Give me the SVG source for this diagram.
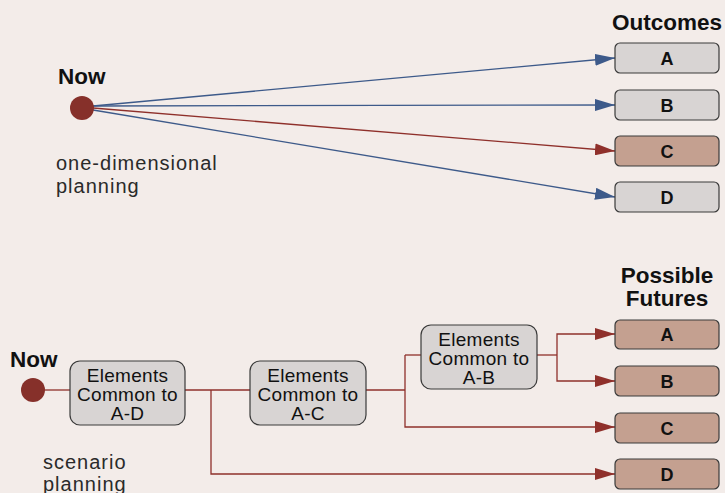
<svg xmlns="http://www.w3.org/2000/svg" width="725" height="493" viewBox="0 0 725 493">
<style>
.bg{fill:#f3ece9}
.box{stroke:#3a3a3a;stroke-width:1.2}
.grey{fill:#d8d4d3}
.brown{fill:#c4a090}
.ttl{font-family:"Liberation Sans",Arial,sans-serif;font-weight:bold;font-size:22.5px;fill:#111}
.lbl{font-family:"Liberation Sans",Arial,sans-serif;font-weight:bold;font-size:18px;fill:#111;text-anchor:middle}
.btxt{font-family:"Liberation Sans",Arial,sans-serif;font-size:19px;letter-spacing:0.3px;fill:#111;text-anchor:middle}
.note{font-family:"Liberation Sans",Arial,sans-serif;font-size:20px;letter-spacing:1px;fill:#2a2a2a}
.blue{stroke:#3d5a8a;stroke-width:1.3;fill:none}
.red{stroke:#8f302b;stroke-width:1.3;fill:none}
.dot{fill:#86302a}
</style>
<defs>
<marker id="ab" markerUnits="userSpaceOnUse" markerWidth="20" markerHeight="12" refX="20" refY="6" orient="auto"><path d="M0,0 L20,6 L0,12 Z" fill="#3d5a8a"/></marker>
<marker id="ar" markerUnits="userSpaceOnUse" markerWidth="20" markerHeight="12" refX="20" refY="6" orient="auto"><path d="M0,0 L20,6 L0,12 Z" fill="#8f302b"/></marker>
</defs>
<rect class="bg" x="0" y="0" width="725" height="493"/>

<g id="connectors">
<line class="blue" x1="93" y1="106" x2="615" y2="58" marker-end="url(#ab)"/>
<line class="blue" x1="93" y1="106" x2="615" y2="105" marker-end="url(#ab)"/>
<line class="red" x1="93" y1="108" x2="615" y2="151" marker-end="url(#ar)"/>
<line class="blue" x1="93" y1="110" x2="615" y2="197" marker-end="url(#ab)"/>

<line class="red" x1="44" y1="390" x2="70" y2="390"/>
<line class="red" x1="185" y1="390" x2="250" y2="390"/>
<polyline class="red" points="211,390 211,474 615,474" marker-end="url(#ar)"/>
<line class="red" x1="366" y1="390" x2="405" y2="390"/>
<line class="red" x1="405" y1="355" x2="421" y2="355"/>
<polyline class="red" points="405,355 405,427 615,427" marker-end="url(#ar)"/>
<line class="red" x1="537" y1="355" x2="557" y2="355"/>
<polyline class="red" points="557,355 557,334 615,334" marker-end="url(#ar)"/>
<polyline class="red" points="557,355 557,381 615,381" marker-end="url(#ar)"/>
</g>

<g id="now-top">
<text class="ttl" x="58" y="84">Now</text>
<circle class="dot" cx="82" cy="108" r="12"/>
</g>
<g id="note-top">
<text class="note" x="56" y="170">one-dimensional</text>
<text class="note" x="56" y="193">planning</text>
</g>
<g id="outcomes-title"><text class="ttl" x="667" y="30" text-anchor="middle">Outcomes</text></g>
<g id="out-a"><rect class="box grey" x="615" y="43" width="104" height="30" rx="5"/><text class="lbl" x="667" y="65">A</text></g>
<g id="out-b"><rect class="box grey" x="615" y="90" width="104" height="30" rx="5"/><text class="lbl" x="667" y="112">B</text></g>
<g id="out-c"><rect class="box brown" x="615" y="136" width="104" height="30" rx="5"/><text class="lbl" x="667" y="158">C</text></g>
<g id="out-d"><rect class="box grey" x="615" y="182" width="104" height="30" rx="5"/><text class="lbl" x="667" y="204">D</text></g>

<g id="now-bottom">
<text class="ttl" x="10" y="367">Now</text>
<circle class="dot" cx="33" cy="390" r="12"/>
</g>
<g id="note-bottom">
<text class="note" x="43" y="469">scenario</text>
<text class="note" x="43" y="491">planning</text>
</g>
<g id="common-ad"><rect class="box grey" x="70" y="361" width="115" height="64" rx="10"/>
<text class="btxt" x="127.5" y="382">Elements</text><text class="btxt" x="127.5" y="401">Common to</text><text class="btxt" x="127.5" y="420">A-D</text></g>
<g id="common-ac"><rect class="box grey" x="250" y="361" width="116" height="64" rx="10"/>
<text class="btxt" x="308" y="382">Elements</text><text class="btxt" x="308" y="401">Common to</text><text class="btxt" x="308" y="420">A-C</text></g>
<g id="common-ab"><rect class="box grey" x="421" y="325" width="116" height="64" rx="10"/>
<text class="btxt" x="479" y="346">Elements</text><text class="btxt" x="479" y="365">Common to</text><text class="btxt" x="479" y="384">A-B</text></g>

<g id="futures-title"><text class="ttl" x="667" y="283" text-anchor="middle">Possible</text><text class="ttl" x="667" y="306" text-anchor="middle">Futures</text></g>
<g id="fut-a"><rect class="box brown" x="615" y="320" width="104" height="29" rx="5"/><text class="lbl" x="667" y="341">A</text></g>
<g id="fut-b"><rect class="box brown" x="615" y="366" width="104" height="30" rx="5"/><text class="lbl" x="667" y="388">B</text></g>
<g id="fut-c"><rect class="box brown" x="615" y="413" width="104" height="30" rx="5"/><text class="lbl" x="667" y="435">C</text></g>
<g id="fut-d"><rect class="box brown" x="615" y="459" width="104" height="30" rx="5"/><text class="lbl" x="667" y="481">D</text></g>
</svg>
